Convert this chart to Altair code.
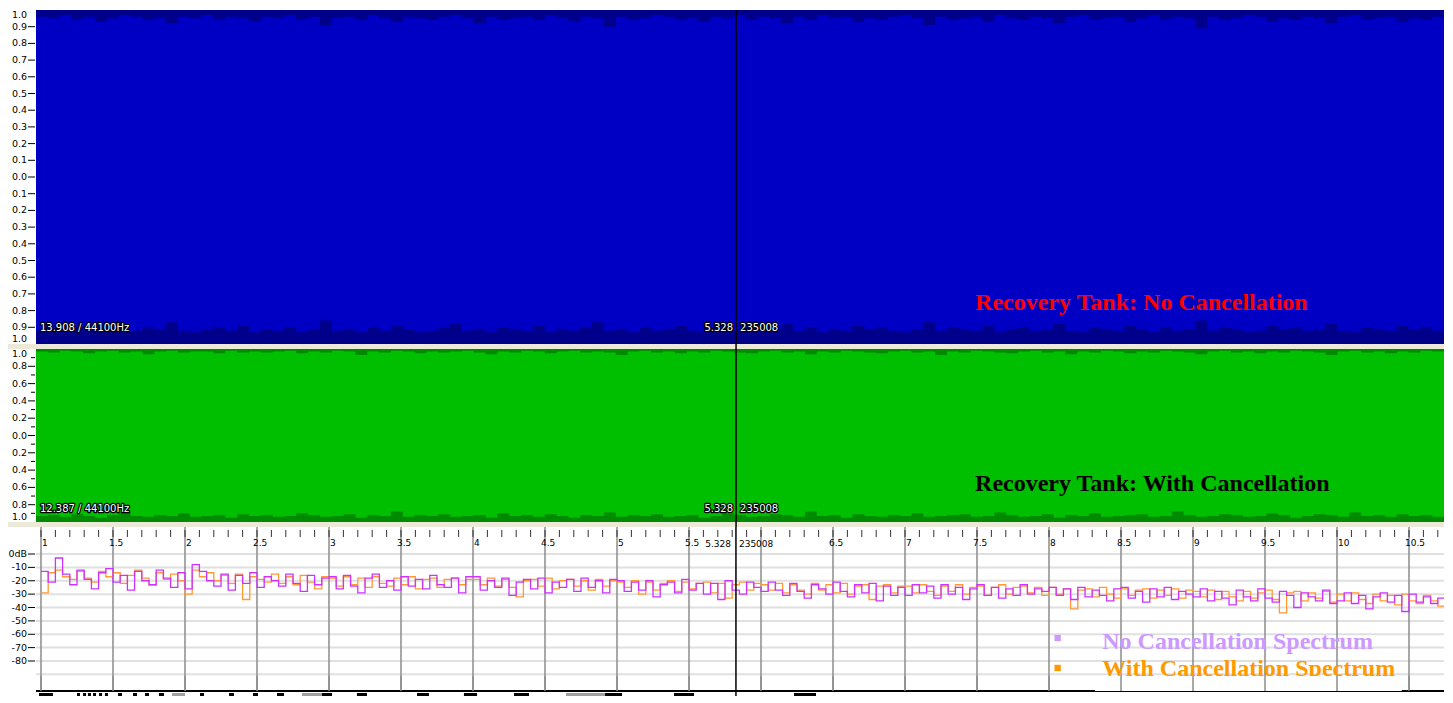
import altair as alt
import pandas as pd

# ---------------- values ----------------
wave_span = 10.716          # seconds visible across the two waveform panels
cursor_time = 5.328
cursor_sample = "235008"
cursor_freq = 5.826         # cursor position on the spectrum axis

info_texts = ["13.908 / 44100Hz", "12.387 / 44100Hz"]
panel_titles = ["Recovery Tank: No Cancellation", "Recovery Tank: With Cancellation"]
panel_title_colors = ["#FF0000", "#000000"]
legend_labels = ["No Cancellation Spectrum", "With Cancellation Spectrum"]
legend_colors = ["#CC99FF", "#FF9900"]
line_colors = ["#CC33FF", "#FF9933"]

# waveform peak envelopes (hundredths of full scale)
top1 = [96, 95, 97, 94, 96, 93, 95, 97, 96, 94, 95, 92, 96, 95, 97, 94, 96, 95, 93, 96,
        95, 97, 94, 96, 91, 95, 96, 94, 97, 95, 93, 96, 95, 94, 96, 97, 95, 92, 96, 94,
        95, 96, 94, 97, 95, 93, 96, 95, 90, 96, 94, 95, 97, 96, 94, 95, 93, 96, 95, 97,
        94, 96, 95, 92, 96, 94, 97, 95, 96, 93, 95, 94, 96, 97, 95, 91, 96, 94, 95, 96,
        93, 97, 95, 94, 96, 95, 92, 96, 97, 94, 95, 96, 93, 95, 97, 94, 96, 95, 89, 96,
        94, 95, 97, 96, 93, 95, 94, 96, 95, 92, 96, 97, 94, 95, 96, 93, 95, 94, 96, 95]
bot1 = [92, 91, 93, 90, 92, 88, 91, 93, 92, 90, 91, 87, 92, 93, 91, 90, 92, 89, 93, 91,
        92, 90, 93, 91, 86, 92, 91, 93, 90, 92, 89, 91, 93, 92, 90, 88, 92, 91, 93, 90,
        91, 92, 89, 93, 91, 92, 90, 87, 92, 91, 93, 90, 92, 91, 89, 92, 93, 90, 91, 92,
        90, 93, 91, 88, 92, 90, 93, 91, 92, 89, 91, 90, 92, 93, 91, 87, 92, 90, 91, 92,
        89, 93, 91, 90, 92, 91, 88, 92, 93, 90, 91, 92, 89, 91, 93, 90, 92, 91, 86, 92,
        90, 91, 93, 92, 89, 91, 90, 92, 91, 88, 92, 93, 90, 91, 92, 89, 91, 90, 92, 91]
top2 = [97, 96, 98, 97, 95, 97, 98, 96, 97, 94, 97, 98, 96, 97, 97, 95, 98, 96, 97, 96,
        97, 98, 95, 97, 96, 98, 97, 93, 97, 96, 98, 97, 95, 97, 96, 97, 98, 96, 94, 97,
        96, 98, 97, 95, 97, 98, 96, 97, 96, 93, 97, 98, 96, 97, 95, 97, 96, 98, 97, 96,
        95, 97, 98, 96, 97, 94, 97, 96, 98, 97, 96, 95, 97, 98, 96, 97, 93, 97, 96, 98,
        97, 96, 95, 97, 98, 96, 97, 94, 97, 96, 98, 97, 95, 97, 96, 98, 97, 96, 94, 97,
        98, 96, 97, 95, 97, 96, 98, 97, 96, 93, 97, 98, 96, 97, 95, 97, 96, 98, 97, 96]
bot2 = [93, 92, 94, 91, 93, 95, 92, 89, 93, 94, 92, 93, 90, 94, 93, 92, 95, 91, 93, 92,
        94, 93, 90, 92, 94, 93, 91, 95, 92, 93, 88, 94, 92, 93, 91, 94, 93, 92, 95, 90,
        93, 92, 94, 91, 93, 95, 92, 93, 89, 94, 92, 93, 91, 94, 93, 92, 95, 93, 90, 92,
        94, 93, 91, 92, 94, 88, 93, 92, 95, 91, 93, 94, 92, 93, 90, 94, 93, 92, 91, 94,
        93, 89, 92, 94, 93, 91, 95, 92, 93, 90, 94, 93, 92, 91, 94, 93, 88, 92, 94, 93,
        91, 92, 94, 93, 90, 92, 95, 93, 91, 92, 94, 89, 93, 92, 94, 91, 93, 92, 94, 93]

# spectrum, dB, sampled every 0.05 from 1.0
spec_start = 1.0
spec_step = 0.05
no_cancel_db = [
    -13, -21, -3, -15, -23, -12, -19, -26, -14, -11, -21, -16, -27, -13, -20, -23, -12, -18, -25, -14,
    -26, -8, -13, -20, -24, -15, -27, -16, -22, -14, -25, -17, -20, -24, -15, -22, -28, -16, -23, -18,
    -17, -26, -16, -24, -29, -18, -15, -25, -20, -27, -17, -24, -19, -26, -16, -23, -25, -18, -29, -17,
    -17, -27, -20, -25, -18, -31, -21, -19, -26, -18, -29, -21, -25, -19, -28, -18, -25, -20, -29, -19,
    -20, -28, -21, -27, -20, -32, -23, -21, -29, -19, -27, -22, -30, -22, -34, -20, -27, -30, -21, -25,
    -28, -21, -27, -31, -22, -28, -33, -23, -26, -30, -21, -28, -32, -23, -29, -22, -35, -24, -31, -25,
    -31, -23, -29, -24, -33, -23, -30, -25, -34, -26, -23, -31, -25, -33, -26, -31, -23, -30, -26, -28,
    -25, -31, -26, -34, -25, -32, -27, -31, -35, -26, -25, -33, -28, -36, -26, -32, -25, -34, -28, -30,
    -32, -26, -35, -28, -33, -38, -27, -32, -35, -26, -33, -36, -28, -31, -40, -29, -32, -35, -27, -37,
    -35, -29, -37, -31, -41, -32, -29, -36, -31, -43, -30, -36, -32, -37, -33, -35, -38]
with_cancel_db = [
    -29, -14, -12, -17, -19, -13, -18, -21, -13, -17, -14, -22, -16, -12, -18, -23, -14, -19, -15, -20,
    -30, -12, -17, -14, -20, -16, -22, -15, -34, -17, -19, -21, -15, -22, -17, -23, -16, -21, -26, -17,
    -18, -24, -17, -23, -18, -25, -17, -22, -24, -18, -23, -17, -26, -19, -18, -25, -19, -18, -23, -19,
    -19, -23, -18, -24, -19, -25, -32, -20, -19, -24, -18, -26, -20, -19, -24, -20, -27, -19, -24, -20,
    -21, -25, -20, -30, -21, -27, -22, -20, -28, -21, -26, -22, -21, -29, -22, -33, -23, -21, -27, -22,
    -23, -27, -22, -29, -23, -27, -30, -22, -27, -23, -29, -22, -30, -24, -23, -34, -24, -23, -29, -24,
    -24, -29, -23, -28, -31, -24, -28, -23, -30, -25, -24, -31, -25, -23, -30, -25, -24, -29, -25, -31,
    -25, -30, -26, -41, -27, -26, -32, -25, -30, -33, -26, -31, -27, -26, -33, -27, -31, -26, -33, -27,
    -28, -32, -27, -34, -28, -32, -35, -28, -33, -29, -27, -34, -44, -29, -28, -35, -29, -33, -28, -36,
    -30, -35, -29, -34, -37, -30, -35, -31, -38, -30, -35, -37, -31, -35, -39, -33, -34]

# tick values and tick labels
wave1_ticks = [round(0.1 * i, 1) for i in range(-9, 10)]
wave2_major = [-0.8, -0.6, -0.4, -0.2, 0.0, 0.2, 0.4, 0.6, 0.8]
wave2_minor = [-0.9, -0.7, -0.5, -0.3, -0.1, 0.1, 0.3, 0.5, 0.7, 0.9]
end_label = "1.0"
freq_grid = [1.0, 1.5, 2.0, 2.5, 3.0, 3.5, 4.0, 4.5, 5.0, 5.5, 6.0, 6.5, 7.0, 7.5, 8.0,
             8.5, 9.0, 9.5, 10.0, 10.5]
freq_minor = [round(1 + 0.1 * i, 1) for i in range(98)]
freq_int_labels = [1, 2, 3, 4, 5, 7, 8, 9, 10]
freq_half_labels = [1.5, 2.5, 3.5, 4.5, 5.5, 6.5, 7.5, 8.5, 9.5, 10.5]
db_ticks = [0, -10, -20, -30, -40, -50, -60, -70, -80]
db_tick_labels = ["0dB", "-10", "-20", "-30", "-40", "-50", "-60", "-70", "-80"]
db_grid = [0, -10, -20, -30, -40, -50, -60, -70, -80, -90]

# piano-style strip under the spectrum (spectrum-axis units)
key_start = [0.986, 1.25, 1.292, 1.326, 1.361, 1.403, 1.444, 1.535, 1.639, 1.722, 1.819, 1.91,
             2.104, 2.306, 2.472, 2.639, 2.8125, 2.951, 3.194, 3.611, 3.937, 4.285, 4.646,
             4.917, 5.396, 6.229]
key_end = [1.083, 1.271, 1.313, 1.347, 1.382, 1.424, 1.465, 1.5625, 1.667, 1.75, 1.854, 2.0,
           2.132, 2.34, 2.507, 2.6875, 2.951, 3.021, 3.264, 3.694, 4.028, 4.389, 4.917,
           5.035, 5.535, 6.382]
key_color = ["black"] * 11 + ["#a0a0a0"] + ["black"] * 4 + ["#a0a0a0"] + ["black"] * 5 + \
            ["#a0a0a0"] + ["black"] * 3

# annotation anchors (data units)
title_anchor_t = 7.147
title_anchor_a = [-0.754, -0.56]
info_anchor_t = 0.03
info_anchor_a = [-0.904, -0.85]
cursor_label_db = 7.5
legend_marker_x = 8.06
legend_text_x = 8.37
legend_text_db = [-65.8, -86.0]
legend_marker_db = [-62.8, -85.2]
legend_clip_db = -91.2
strip_top_db = -102.43
key_top_db = -103.93
freq_domain = [0.9653, 10.743]
db_domain = [-106.17, 20.19]

# ---------------- layout ----------------
FONT = "DejaVu Sans"
SERIF = "Liberation Serif"
BEIGE = "#ECE9D8"
W = 1408
LEFT = 28
GAP = 5
H1, H2, H3 = 334, 173, 169
one = pd.DataFrame({"k": [0]})


def gap_band(H):
    return alt.Chart(one).mark_rect(color=BEIGE).encode(
        x=alt.value(-LEFT), x2=alt.value(W), y=alt.value(H), y2=alt.value(H + GAP))


def y_ticks(values, scale, length, color="black"):
    return alt.Chart(pd.DataFrame({"v": values})).mark_rule(color=color, strokeWidth=1).encode(
        y=alt.Y("v:Q", scale=scale, axis=None), x=alt.value(-1 - length), x2=alt.value(-1))


def y_labels(values, texts, scale, baseline="middle"):
    return alt.Chart(pd.DataFrame({"v": values, "s": texts})).mark_text(
        align="right", baseline=baseline, font=FONT, fontSize=9.5, color="black").encode(
        y=alt.Y("v:Q", scale=scale, axis=None), x=alt.value(-9), text="s:N")


def wave_panel(top, bot, H, bright, dark, idx):
    n = len(top)
    df = pd.DataFrame({"t": [i * wave_span / (n - 1) for i in range(n)],
                       "top": [v / 100 for v in top],
                       "bot": [-v / 100 for v in bot]})
    xs = alt.Scale(domain=[0, wave_span], nice=False, zero=False)
    ys = alt.Scale(domain=[-1, 1], nice=False, zero=False)
    area = alt.Chart(df).mark_area(color=bright, interpolate="step-after", clip=True).encode(
        x=alt.X("t:Q", scale=xs, axis=None),
        y=alt.Y("top:Q", scale=ys, axis=None),
        y2=alt.Y2("bot:Q"))
    cur = alt.Chart(pd.DataFrame({"t": [cursor_time]})).mark_rule(
        color="black", strokeWidth=1.5).encode(
        x=alt.X("t:Q", scale=xs, axis=None), y=alt.value(0), y2=alt.value(H + GAP))
    layers = [area, gap_band(H), cur]
    if idx == 0:
        layers.append(y_ticks(wave1_ticks, ys, 7))
        layers.append(y_labels(wave1_ticks, [f"{abs(v):.1f}" for v in wave1_ticks], ys))
    else:
        layers.append(y_ticks(wave2_major, ys, 7))
        layers.append(y_ticks(wave2_minor, ys, 4))
        layers.append(y_labels(wave2_major, [f"{abs(v):.1f}" for v in wave2_major], ys))
    layers.append(y_labels([1.0], [end_label], ys, "top"))
    layers.append(y_labels([-1.0], [end_label], ys, "bottom"))
    lab_rows = [
        (info_anchor_t, info_texts[idx], "left", 0),
        (cursor_time, f"{cursor_time:.3f}", "right", -3),
        (cursor_time, cursor_sample, "left", 4),
    ]
    for t, txt, al, dx in lab_rows:
        d = pd.DataFrame({"t": [t], "a": [info_anchor_a[idx]], "txt": [txt]})
        enc = dict(x=alt.X("t:Q", scale=xs, axis=None),
                   y=alt.Y("a:Q", scale=ys, axis=None), text="txt:N")
        layers.append(alt.Chart(d).mark_text(
            align=al, baseline="middle", dx=dx, font=FONT, fontSize=10,
            color="black", stroke="black", strokeWidth=2.5, strokeJoin="round").encode(**enc))
        layers.append(alt.Chart(d).mark_text(
            align=al, baseline="middle", dx=dx, font=FONT, fontSize=10,
            color="white").encode(**enc))
    td = pd.DataFrame({"t": [title_anchor_t], "a": [title_anchor_a[idx]], "txt": [panel_titles[idx]]})
    layers.append(alt.Chart(td).mark_text(
        align="left", baseline="middle", font=SERIF, fontSize=24, fontWeight="bold",
        color=panel_title_colors[idx]).encode(
        x=alt.X("t:Q", scale=xs, axis=None), y=alt.Y("a:Q", scale=ys, axis=None), text="txt:N"))
    return alt.layer(*layers).properties(
        width=W, height=H, view=alt.ViewBackground(fill=dark, strokeWidth=0))


p1 = wave_panel(top1, bot1, H1, "#0000C4", "#00008A", 0)
p2 = wave_panel(top2, bot2, H2, "#00BE00", "#008A00", 1)

# ---------------- spectrum panel ----------------
fs = alt.Scale(domain=freq_domain, nice=False, zero=False)
ds = alt.Scale(domain=db_domain, nice=False, zero=False)
n = len(no_cancel_db)
sdf = pd.DataFrame({"f": [round(spec_start + spec_step * i, 2) for i in range(n)],
                    "no": no_cancel_db, "with": with_cancel_db})

hgrid = alt.Chart(pd.DataFrame({"v": db_grid})).mark_rule(color="#e0e0e0", strokeWidth=2).encode(
    y=alt.Y("v:Q", scale=ds, axis=None), x=alt.value(0), x2=alt.value(W))


def vgrid(y0, y1):
    return alt.Chart(pd.DataFrame({"f": freq_grid})).mark_rule(
        color="#8c8c8c", strokeWidth=1.5).encode(
        x=alt.X("f:Q", scale=fs, axis=None), y=alt.value(y0), y2=alt.value(y1))


xticks = alt.Chart(pd.DataFrame({"f": freq_minor})).mark_rule(color="#333333", strokeWidth=1).encode(
    x=alt.X("f:Q", scale=fs, axis=None), y=alt.value(3), y2=alt.value(10))
xlab_int = alt.Chart(pd.DataFrame({"f": freq_int_labels, "s": [str(v) for v in freq_int_labels]})).mark_text(
    align="left", baseline="top", dx=1, font=FONT, fontSize=9, color="black").encode(
    x=alt.X("f:Q", scale=fs, axis=None), y=alt.value(12), text="s:N")
xlab_half = alt.Chart(pd.DataFrame({"f": freq_half_labels, "s": [f"{v:g}" for v in freq_half_labels]})).mark_text(
    align="left", baseline="top", dx=-4, font=FONT, fontSize=9, color="black").encode(
    x=alt.X("f:Q", scale=fs, axis=None), y=alt.value(12), text="s:N")

orange = alt.Chart(sdf).mark_line(color=line_colors[1], strokeWidth=1.3,
                                  interpolate="step-after", clip=True).encode(
    x=alt.X("f:Q", scale=fs, axis=None), y=alt.Y("with:Q", scale=ds, axis=None))
purple = alt.Chart(sdf).mark_line(color=line_colors[0], strokeWidth=1.3,
                                  interpolate="step-after", clip=True).encode(
    x=alt.X("f:Q", scale=fs, axis=None), y=alt.Y("no:Q", scale=ds, axis=None))

strip_bg = alt.Chart(pd.DataFrame({"y0": [strip_top_db], "y1": [db_domain[0]]})).mark_rect(
    color="white").encode(x=alt.value(0), x2=alt.value(W),
                          y=alt.Y("y0:Q", scale=ds, axis=None), y2="y1:Q")
strip_line = alt.Chart(pd.DataFrame({"y0": [strip_top_db]})).mark_rule(
    color="black", strokeWidth=2).encode(x=alt.value(0), x2=alt.value(W),
                                         y=alt.Y("y0:Q", scale=ds, axis=None))
keys = alt.Chart(pd.DataFrame({"s": key_start, "e": key_end, "c": key_color,
                               "y0": [key_top_db] * len(key_start),
                               "y1": [db_domain[0]] * len(key_start)})).mark_rect().encode(
    x=alt.X("s:Q", scale=fs, axis=None), x2="e:Q",
    y=alt.Y("y0:Q", scale=ds, axis=None), y2="y1:Q",
    color=alt.Color("c:N", scale=None))
cur3 = alt.Chart(pd.DataFrame({"f": [cursor_freq]})).mark_rule(
    color="black", strokeWidth=1.5).encode(
    x=alt.X("f:Q", scale=fs, axis=None), y=alt.value(0), y2=alt.value(H3))
cl = pd.DataFrame({"f": [cursor_freq], "d": [cursor_label_db],
                   "t1": [f"{cursor_time:.3f}"], "t2": [cursor_sample]})
cur_t1 = alt.Chart(cl).mark_text(align="right", baseline="middle", dx=-5, font=FONT,
                                 fontSize=9, color="black").encode(
    x=alt.X("f:Q", scale=fs, axis=None), y=alt.Y("d:Q", scale=ds, axis=None), text="t1:N")
cur_t2 = alt.Chart(cl).mark_text(align="left", baseline="middle", dx=3, font=FONT,
                                 fontSize=9, color="black").encode(
    x=alt.X("f:Q", scale=fs, axis=None), y=alt.Y("d:Q", scale=ds, axis=None), text="t2:N")
leg_sq = alt.Chart(pd.DataFrame({"f": [legend_marker_x] * 2, "d": legend_marker_db,
                                 "c": legend_colors})).mark_square(size=40, opacity=1).encode(
    x=alt.X("f:Q", scale=fs, axis=None), y=alt.Y("d:Q", scale=ds, axis=None),
    color=alt.Color("c:N", scale=None))
leg_tx = alt.Chart(pd.DataFrame({"f": [legend_text_x] * 2, "d": legend_text_db,
                                 "txt": legend_labels, "c": legend_colors})).mark_text(
    align="left", baseline="middle", font=SERIF, fontSize=24, fontWeight="bold").encode(
    x=alt.X("f:Q", scale=fs, axis=None), y=alt.Y("d:Q", scale=ds, axis=None),
    text="txt:N", color=alt.Color("c:N", scale=None))
leg_clip = alt.Chart(pd.DataFrame({"s": [legend_text_x - 0.05], "e": [10.45],
                                   "y0": [legend_clip_db], "y1": [strip_top_db]})).mark_rect(
    color="white").encode(x=alt.X("s:Q", scale=fs, axis=None), x2="e:Q",
                          y=alt.Y("y0:Q", scale=ds, axis=None), y2="y1:Q")
left3 = alt.Chart(one).mark_rect(color="white").encode(
    x=alt.value(-LEFT), x2=alt.value(0), y=alt.value(0), y2=alt.value(H3))

p3 = alt.layer(hgrid, vgrid(0, H3), xticks, xlab_int, xlab_half, orange, purple,
               strip_bg, strip_line, keys, cur3, cur_t1, cur_t2,
               leg_sq, leg_tx, leg_clip, vgrid(149, 164), left3,
               y_ticks(db_ticks, ds, 7), y_labels(db_ticks, db_tick_labels, ds)).properties(
    width=W, height=H3, view=alt.ViewBackground(fill="white", strokeWidth=0))

chart = alt.vconcat(p1, p2, p3, spacing=GAP, bounds="flush").properties(
    background="white", padding={"left": 0, "top": 1, "right": 0, "bottom": 0}
).configure_view(strokeWidth=0)

chart.save("out.html", embed_options={"renderer": "svg", "actions": False})
